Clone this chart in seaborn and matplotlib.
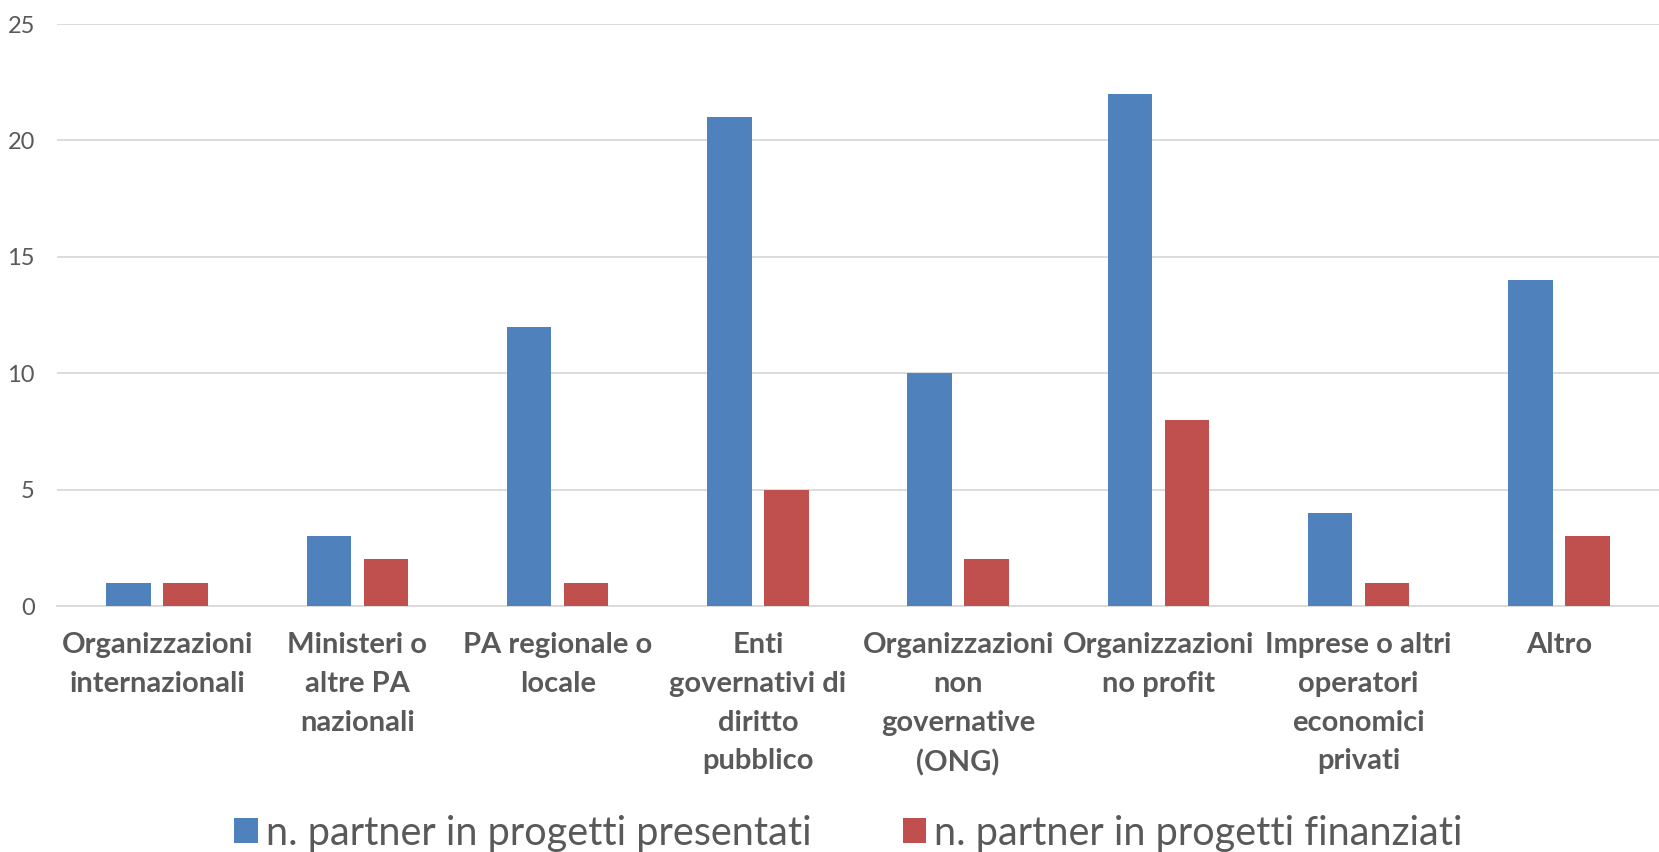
import pandas as pd
import matplotlib.pyplot as plt
import seaborn as sns

# dati
categorie = ['Organizzazioni\ninternazionali', 'Ministeri o\naltre PA\nnazionali', 'PA regionale o\nlocale',
             'Enti\ngovernativi di\ndiritto\npubblico', 'Organizzazioni\nnon\ngovernative\n(ONG)',
             'Organizzazioni\nno profit', 'Imprese o altri\noperatori\neconomici\nprivati', 'Altro']
presentati = [1, 3, 12, 21, 10, 22, 4, 14]
finanziati = [1, 2, 1, 5, 2, 8, 1, 3]
serie = ['n. partner in progetti presentati', 'n. partner in progetti finanziati']
y_ticks = [0, 5, 10, 15, 20, 25]

df = pd.DataFrame({
    'Categoria': categorie * 2,
    'Valore': presentati + finanziati,
    'Serie': [serie[0]] * len(categorie) + [serie[1]] * len(categorie),
})

sns.set_theme(style="white")
plt.rcParams['font.family'] = ['Lato', 'DejaVu Sans']

grigio = '#595959'
fig = plt.figure(figsize=(16.59, 8.52), dpi=100)
ax = fig.add_axes([0.0344, 0.2887, 0.9656, 0.6831])

sns.barplot(data=df, x='Categoria', y='Valore', hue='Serie', order=categorie, hue_order=serie,
            palette=['#4F81BD', '#C0504D'], saturation=1, width=0.57, gap=0.22, linewidth=0,
            ax=ax, zorder=3)

ax.set_ylim(0, 25)
ax.set_xlim(-0.5, len(categorie) - 0.5)
ax.set_yticks(y_ticks)
ax.yaxis.grid(True, color='#D9D9D9', linewidth=1.3, zorder=0)
ax.set_axisbelow(True)
for s in ['top', 'right', 'left']:
    ax.spines[s].set_visible(False)
ax.spines['bottom'].set_color('#D9D9D9')
ax.spines['bottom'].set_linewidth(1.3)
ax.set_xlabel('')
ax.set_ylabel('')
ax.tick_params(axis='y', length=0, pad=16, labelsize=17, labelcolor=grigio)
ax.tick_params(axis='x', length=0, pad=19, labelsize=21, labelcolor=grigio)
for t in ax.get_xticklabels():
    t.set_fontweight('bold')
    t.set_linespacing(1.6)

handles, labels = ax.get_legend_handles_labels()
ax.legend(handles, labels, loc='center', bbox_to_anchor=(0.5115, 0.022), bbox_transform=fig.transFigure,
          ncol=2, frameon=False, fontsize=28.5, labelcolor=grigio, handlelength=0.6, handleheight=0.6,
          handletextpad=0.2, columnspacing=2.3)

plt.savefig('out.png', dpi=100)
plt.close()
